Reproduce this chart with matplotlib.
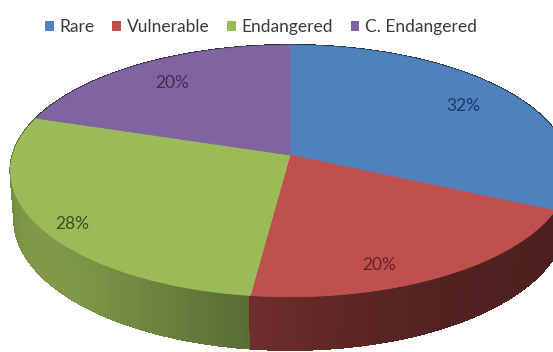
import numpy as np
import matplotlib.pyplot as plt
from matplotlib.patches import Polygon, Patch
from matplotlib.collections import PolyCollection

plt.rcParams['font.family'] = ['Lato', 'DejaVu Sans']

# data
categories = ['Rare', 'Vulnerable', 'Endangered', 'C. Endangered']
shares = [32, 20, 28, 20]

# style
colors = ['#4F81BD', '#C0504D', '#9BBB59', '#8064A2']
label_colors = ['#1F3864', '#632523', '#3B5218', '#3F3151']
label_r = [0.78, 0.85, 0.9, 0.78]
label_dtheta = [0, -9, 3, 0]

# perspective view of the tilted pie (pixel space)
elev = np.radians(27.5)
dist = 7.0
kx, ky = 1940, 1876
cx, cy = 290, 155
depth = 0.206


def project(theta, r=1.0, z=0.0):
    X = r * np.cos(theta)
    Y = r * np.sin(theta)
    v = Y * np.sin(elev) + z * np.cos(elev)
    w = dist + Y * np.cos(elev) - z * np.sin(elev)
    return cx + kx * X / w, cy - ky * v / w


def shade(theta):
    a = np.degrees(theta) % 360
    return 0.40 + 0.42 * np.exp(-((a - 215) / 52) ** 2)


fig = plt.figure(figsize=(5.53, 3.52), dpi=100)
ax = fig.add_axes([0, 0, 1, 1])
ax.set_xlim(0, 553)
ax.set_ylim(352, 0)
ax.axis('off')

frac = np.array(shares, dtype=float) / sum(shares)
bounds = np.radians(90 - 360 * np.concatenate([[0], np.cumsum(frac)]))

# side wall, painted far to near
quads, qcols, keys = [], [], []
for i in range(len(shares)):
    th = np.linspace(bounds[i], bounds[i + 1], 80)
    base = np.array(plt.matplotlib.colors.to_rgb(colors[i]))
    for t0, t1 in zip(th[:-1], th[1:]):
        x0, y0 = project(t0)
        x1, y1 = project(t1)
        x2, y2 = project(t1, z=-depth)
        x3, y3 = project(t0, z=-depth)
        quads.append([(x0, y0), (x1, y1), (x2, y2), (x3, y3)])
        tm = 0.5 * (t0 + t1)
        qcols.append(np.clip(base * shade(tm), 0, 1))
        keys.append(-np.sin(tm))
order = np.argsort(keys)
pc = PolyCollection([quads[k] for k in order], facecolors=[qcols[k] for k in order],
                    edgecolors=[qcols[k] for k in order], linewidths=1.0,
                    antialiaseds=False)
ax.add_collection(pc)

# top face
for i in range(len(shares)):
    th = np.linspace(bounds[i], bounds[i + 1], 200)
    xs, ys = project(th)
    pts = [(cx, cy)] + list(zip(xs, ys))
    ax.add_patch(Polygon(pts, closed=True, facecolor=colors[i],
                         edgecolor=colors[i], linewidth=0.6))

# data labels
for i in range(len(shares)):
    mid = 0.5 * (bounds[i] + bounds[i + 1]) + np.radians(label_dtheta[i])
    lx, ly = project(mid, r=label_r[i])
    ax.text(lx, ly, f'{shares[i]}%', ha='center', va='center',
            fontsize=12.5, color=label_colors[i])

handles = [Patch(facecolor=c, edgecolor='none') for c in colors]
fig.legend(handles, categories, loc='upper center', bbox_to_anchor=(0.472, 0.99),
           ncol=4, frameon=False, fontsize=12.5, handlelength=0.5, handleheight=0.5,
           handletextpad=0.35, columnspacing=1.0, labelcolor='#3a3a3a')

fig.savefig('out.png', dpi=100, facecolor='white')
